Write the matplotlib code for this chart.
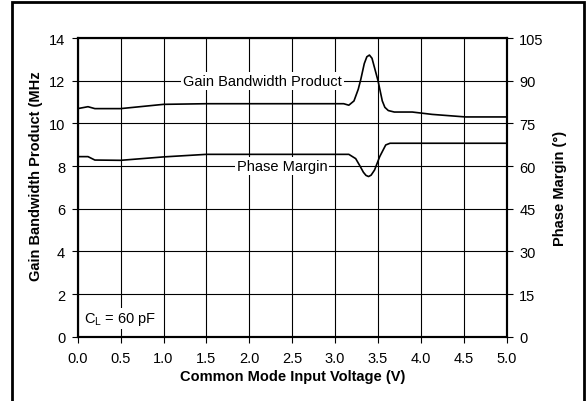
import matplotlib.pyplot as plt
from matplotlib.patches import Rectangle

plt.rcParams["font.family"] = ["Liberation Sans", "DejaVu Sans"]
plt.rcParams["mathtext.fontset"] = "custom"
plt.rcParams["mathtext.rm"] = "Liberation Sans"

# common mode input voltage (V) vs gain bandwidth product (MHz)
vcm_gbw = [0.0, 0.12, 0.2, 0.5, 1.0, 1.5, 2.0, 2.5, 3.0, 3.10, 3.16, 3.22, 3.27, 3.30,
           3.34, 3.37, 3.40, 3.43, 3.46, 3.50, 3.55, 3.58, 3.62, 3.69, 3.90, 4.13,
           4.52, 5.0]
gbw = [10.69, 10.78, 10.69, 10.69, 10.89, 10.92, 10.92, 10.92, 10.92, 10.92, 10.85,
       11.05, 11.6, 12.07, 12.8, 13.12, 13.2, 13.05, 12.6, 12.0, 11.05, 10.75, 10.6,
       10.53, 10.53, 10.42, 10.3, 10.3]

# common mode input voltage (V) vs phase margin (deg)
vcm_pm = [0.0, 0.12, 0.2, 0.5, 1.0, 1.5, 2.0, 2.5, 3.0, 3.16, 3.24, 3.29, 3.33, 3.36,
          3.39, 3.42, 3.46, 3.52, 3.59, 3.64, 4.0, 4.5, 5.0]
pm = [63.3, 63.3, 62.1, 62.0, 63.2, 64.1, 64.1, 64.1, 64.1, 64.1, 62.6, 60.0, 57.8,
      56.7, 56.3, 56.8, 58.6, 63.3, 67.4, 68.0, 68.0, 68.0, 68.0]

x_ticks = [0.0, 0.5, 1.0, 1.5, 2.0, 2.5, 3.0, 3.5, 4.0, 4.5, 5.0]
gbw_ticks = [0, 2, 4, 6, 8, 10, 12, 14]
pm_ticks = [0, 15, 30, 45, 60, 75, 90, 105]

fs = 10.5

fig = plt.figure(figsize=(5.86, 4.02), dpi=100)
ax = fig.add_axes([77.7 / 586, 1 - 337.7 / 402, (506.7 - 77.7) / 586, (337.7 - 39) / 402])
ax2 = ax.twinx()

ax.plot(vcm_gbw, gbw, color="black", lw=1.2, zorder=3)
ax2.plot(vcm_pm, pm, color="black", lw=1.2, zorder=3)

ax.set_xlim(0, 5)
ax.set_ylim(0, 14)
ax2.set_ylim(0, 105)
ax.set_xticks(x_ticks)
ax.set_xticklabels([f"{v:.1f}" for v in x_ticks])
ax.set_yticks(gbw_ticks)
ax2.set_yticks(pm_ticks)
ax.grid(True, color="black", lw=0.8)

for a in (ax, ax2):
    a.tick_params(labelsize=fs, length=4, width=0.8, color="black", direction="out")
    for s in a.spines.values():
        s.set_linewidth(1.5)
ax.tick_params(axis="x", pad=6)
ax.tick_params(axis="y", pad=5)
ax2.tick_params(axis="y", pad=5)

ax.set_xlabel("Common Mode Input Voltage (V)", fontsize=fs, fontweight="bold", labelpad=3)
ax.set_ylabel("Gain Bandwidth Product (MHz", fontsize=fs, fontweight="bold")
ax.yaxis.set_label_coords(-0.08, 0.54)
ax2.set_ylabel("Phase Margin (°)", fontsize=fs, fontweight="bold", labelpad=7)

box = dict(facecolor="white", edgecolor="none", pad=1.5)
ax.text(2.15, 12, "Gain Bandwidth Product", fontsize=fs, ha="center", va="center",
        bbox=box, zorder=4)
ax.text(2.38, 8, "Phase Margin", fontsize=fs, ha="center", va="center",
        bbox=box, zorder=4)
ax.text(0.07, 0.85, r"C$_\mathregular{L}$ = 60 pF", fontsize=fs, ha="left", va="center",
        bbox=box, zorder=4)

fig.patches.append(Rectangle((12 / 586, -2 / 402), 572 / 586, 401 / 402,
                             transform=fig.transFigure, fill=False, lw=2, ec="black"))

fig.savefig("out.png", dpi=100)
